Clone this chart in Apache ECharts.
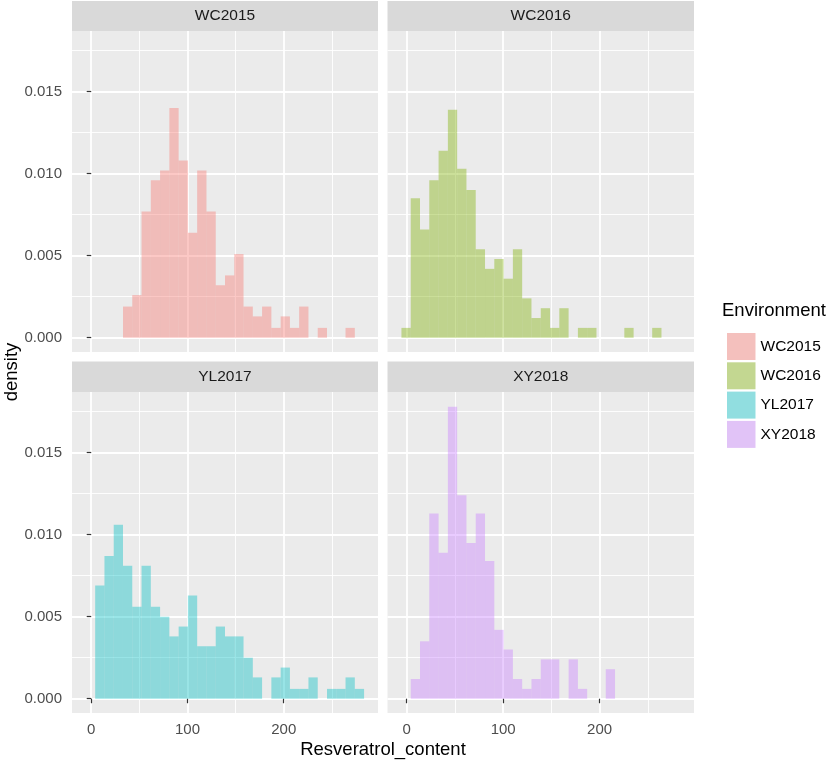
<!DOCTYPE html>
<html>
<head>
<meta charset="utf-8">
<script src="https://cdn.jsdelivr.net/npm/echarts@6/dist/echarts.min.js"></script>
<style>
  html, body { margin: 0; padding: 0; background: #fff; }
  #main { width: 829px; height: 764px; }
</style>
</head>
<body>
<div id="main"></div>
<script>
// histogram bins shared by all panels (30 bins)
var binStart = -5.5;
var binWidth = 9.633;

var environments = ['WC2015', 'WC2016', 'YL2017', 'XY2018'];
var baseColors = ['#F8766D', '#7CAE00', '#00BFC4', '#C77CFF'];

// density per bin
var wc2015 = [0, 0, 0, 0, 0.0019, 0.0026, 0.0077, 0.0096, 0.0102, 0.0140,
  0.0108, 0.0064, 0.0102, 0.0077, 0.0032, 0.0038, 0.0051, 0.0019, 0.0013, 0.0019,
  0.0006, 0.0013, 0.0006, 0.0019, 0, 0.0006, 0, 0, 0.0006, 0];
var wc2016 = [0.0006, 0.0085, 0.0066, 0.0096, 0.0114, 0.0139, 0.0103, 0.0090, 0.0054, 0.0042,
  0.0048, 0.0036, 0.0054, 0.0024, 0.0012, 0.0018, 0.0006, 0.0018, 0, 0.0006,
  0.0006, 0, 0, 0, 0.0006, 0, 0, 0.0006, 0, 0];
var yl2017 = [0, 0.0069, 0.0087, 0.0106, 0.0081, 0.0056, 0.0081, 0.0056, 0.0050, 0.0038,
  0.0044, 0.0063, 0.0032, 0.0032, 0.0044, 0.0038, 0.0038, 0.0025, 0.0013, 0,
  0.0013, 0.0019, 0.0006, 0.0006, 0.0013, 0, 0.0006, 0.0006, 0.0013, 0.0006];
var xy2018 = [0, 0.0012, 0.0035, 0.0113, 0.0089, 0.0178, 0.0124, 0.0095, 0.0113, 0.0084,
  0.0042, 0.0030, 0.0012, 0.0006, 0.0012, 0.0024, 0.0024, 0, 0.0024, 0.0006,
  0, 0, 0.0018, 0, 0, 0, 0, 0, 0, 0];
var densities = [wc2015, wc2016, yl2017, xy2018];

var xMin = -19.95, xMax = 297.95;
var yMin = -0.00087, yMax = 0.0187;

var fontFamily = 'Liberation Sans, Arial, sans-serif';
var alpha = 0.4;

function hexToRgba(hex, a) {
  var r = parseInt(hex.slice(1, 3), 16);
  var g = parseInt(hex.slice(3, 5), 16);
  var b = parseInt(hex.slice(5, 7), 16);
  return 'rgba(' + r + ',' + g + ',' + b + ',' + a + ')';
}
// legend keys sit on grey95, so mix the colour over it
function mixOver(hex, a, bg) {
  var out = '#';
  for (var k = 0; k < 3; k++) {
    var c = parseInt(hex.slice(1 + 2 * k, 3 + 2 * k), 16);
    var v = Math.round(c * a + bg * (1 - a));
    out += (v < 16 ? '0' : '') + v.toString(16);
  }
  return out;
}

var panels = [
  { left: 72, top: 31, width: 306, height: 321 },
  { left: 387.5, top: 31, width: 306.5, height: 321 },
  { left: 72, top: 392, width: 306, height: 321 },
  { left: 387.5, top: 392, width: 306.5, height: 321 }
];

var myChart = echarts.init(document.getElementById('main'), null, { renderer: 'canvas' });

var grids = [], xAxes = [], yAxes = [], series = [], graphics = [];

panels.forEach(function (p, i) {
  var isBottom = i >= 2;
  var isLeft = i % 2 === 0;
  grids.push({
    left: p.left, top: p.top, width: p.width, height: p.height,
    show: true, backgroundColor: '#EBEBEB', borderWidth: 0
  });
  xAxes.push({
    type: 'value', gridIndex: i, min: xMin, max: xMax, splitNumber: 3,
    axisLine: { show: false },
    axisTick: { show: isBottom, length: 4.5, lineStyle: { color: '#333333', width: 1.2 } },
    axisLabel: {
      show: isBottom, margin: 9, color: '#4D4D4D', fontSize: 15, fontFamily: fontFamily,
      showMinLabel: false, showMaxLabel: false
    },
    splitLine: { show: true, showMinLine: false, showMaxLine: false, lineStyle: { color: '#FFFFFF', width: 1.8 } },
    minorTick: { show: false, splitNumber: 2 },
    minorSplitLine: { show: true, lineStyle: { color: '#FFFFFF', width: 0.9 } }
  });
  yAxes.push({
    type: 'value', gridIndex: i, min: yMin, max: yMax, splitNumber: 4,
    axisLine: { show: false },
    axisTick: { show: isLeft, length: 4.5, lineStyle: { color: '#333333', width: 1.2 } },
    axisLabel: {
      show: isLeft, margin: 10, color: '#4D4D4D', fontSize: 15, fontFamily: fontFamily,
      showMinLabel: false, showMaxLabel: false,
      formatter: function (v) { return v.toFixed(3); }
    },
    splitLine: { show: true, showMinLine: false, showMaxLine: false, lineStyle: { color: '#FFFFFF', width: 1.8 } },
    minorTick: { show: false, splitNumber: 2 },
    minorSplitLine: { show: true, lineStyle: { color: '#FFFFFF', width: 0.9 } }
  });

  var data = [];
  densities[i].forEach(function (d, k) {
    if (d > 0) {
      data.push([binStart + k * binWidth, binStart + (k + 1) * binWidth, d]);
    }
  });
  series.push({
    name: environments[i],
    type: 'custom',
    xAxisIndex: i,
    yAxisIndex: i,
    itemStyle: { color: hexToRgba(baseColors[i], alpha) },
    renderItem: function (params, api) {
      var p0 = api.coord([api.value(0), 0]);
      var p1 = api.coord([api.value(1), api.value(2)]);
      return {
        type: 'rect',
        shape: { x: p0[0], y: p1[1], width: p1[0] - p0[0], height: p0[1] - p1[1] },
        style: api.style()
      };
    },
    encode: { x: [0, 1], y: 2 },
    data: data
  });

  // facet strip
  var stripTop = isBottom ? 361.5 : 1;
  graphics.push({
    type: 'rect',
    shape: { x: p.left, y: stripTop, width: p.width, height: p.top - stripTop },
    style: { fill: '#D9D9D9' }
  });
  graphics.push({
    type: 'text',
    x: p.left + p.width / 2,
    y: stripTop + (p.top - stripTop) / 2,
    style: {
      text: environments[i], fill: '#1A1A1A', fontSize: 15.5, fontFamily: fontFamily,
      align: 'center', verticalAlign: 'middle'
    }
  });
});

// axis titles
graphics.push({
  type: 'text', x: 383, y: 750,
  style: { text: 'Resveratrol_content', fill: '#000', fontSize: 18.5, fontFamily: fontFamily, align: 'center', verticalAlign: 'middle' }
});
graphics.push({
  type: 'text', x: 12, y: 372, rotation: Math.PI / 2,
  style: { text: 'density', fill: '#000', fontSize: 18.5, fontFamily: fontFamily, align: 'center', verticalAlign: 'middle' }
});
// legend title
graphics.push({
  type: 'text', x: 722, y: 311,
  style: { text: 'Environment', fill: '#000', fontSize: 18.5, fontFamily: fontFamily, align: 'left', verticalAlign: 'middle' }
});

var option = {
  animation: false,
  backgroundColor: '#FFFFFF',
  grid: grids,
  xAxis: xAxes,
  yAxis: yAxes,
  legend: {
    orient: 'vertical',
    left: 722,
    top: 328,
    icon: 'rect',
    itemWidth: 28.5,
    itemHeight: 27,
    itemGap: 2.3,
    selectedMode: false,
    textStyle: { fontSize: 15.5, color: '#000', fontFamily: fontFamily, padding: [5, 0, 0, 0] },
    data: environments.map(function (name, i) {
      return { name: name, itemStyle: { color: mixOver(baseColors[i], alpha, 242) } };
    })
  },
  graphic: graphics,
  series: series
};

myChart.setOption(option, true);
</script>
</body>
</html>
